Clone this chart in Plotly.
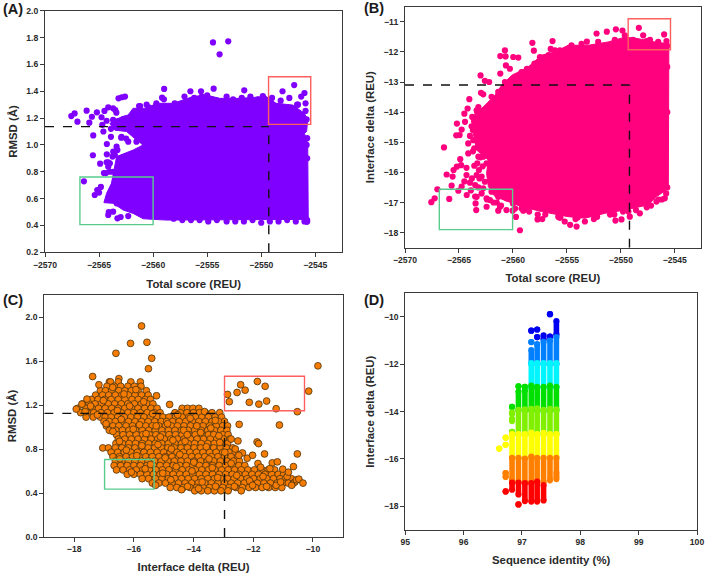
import plotly.graph_objects as go

FONT = "Liberation Sans"
INK = "#2a2a2a"
PURPLE = "#8000ff"
PINK = "#ff007f"
ORANGE = "#f57c00"
BOX_RED = "#ff5f5f"
BOX_GREEN = "#58cc8c"

# ---------- Panel A: total score vs RMSD ----------
a_hull_x = [-2562.92,-2562.31,-2561.85,-2560.62,-2559.69,-2558.15,-2556.31,-2555.08,-2553.85,-2552.0,-2549.54,-2548.62,-2547.08,-2546.0,-2545.7,-2545.8,-2546.0,-2545.7,-2545.65,-2558.77,-2560.92,-2561.85,-2562.77,-2563.69,-2564.55,-2564.3,-2563.85,-2563.69,-2563.54,-2563.38,-2561.85,-2560.92,-2561.54,-2562.46,-2563.54,-2564.0]
a_hull_y = [1.21,1.223,1.273,1.273,1.31,1.31,1.36,1.372,1.347,1.347,1.36,1.31,1.297,1.235,1.186,1.10,1.086,1.012,0.445,0.44,0.45,0.49,0.515,0.565,0.57,0.64,0.714,0.79,0.863,0.913,0.962,1.0,1.037,1.10,1.11,1.16]
a_pts_x = [-2554.46,-2553.05,-2553.85,-2546.95,-2548.03,-2546.0,-2546.68,-2545.9,-2558.98,-2559.17,-2554.4,-2555.57,-2556.55,-2551.57,-2567.57,-2567.26,-2567.0,-2566.15,-2565.9,-2565.66,-2565.2,-2564.77,-2564.5,-2564.15,-2563.7,-2565.54,-2565.57,-2564.28,-2563.9,-2562.95,-2562.5,-2564.28,-2564.9,-2564.15,-2564.55,-2566.4,-2564.83,-2565.17,-2565.0,-2565.4,-2563.0,-2562.3,
 -2564.7,-2564.3,-2563.9,-2563.4,-2563.2,-2561.3,-2560.6,-2559.7,-2559.0,-2558.0,-2557.1,-2556.2,-2555.5,-2555.0,-2554.1,-2553.2,-2552.6,-2551.8,-2551.0,-2550.3,-2549.8,-2549.0,-2548.2,-2547.4,-2546.6,-2545.9,
 -2561.2,-2560.4,-2559.6,-2558.8,-2558.1,-2557.3,-2556.5,-2555.7,-2554.9,-2554.1,-2553.2,-2552.4,-2551.6,-2550.8,-2550.0,-2549.2,-2548.4,-2547.6,-2546.8,-2546.0,-2545.8,-2545.75,-2545.8,-2545.75,-2545.8,-2545.75,-2545.8,-2545.75,
 -2564.0,-2563.6,-2563.9,-2564.1,-2564.6,-2564.3,-2563.7,-2563.2,-2562.7,-2562.0,-2561.4,
 -2562.77,-2562.0,-2561.38,-2560.6,-2559.7,-2562.92,-2562.3,-2561.54,-2560.77,-2563.54,-2563.69,-2563.3,-2563.38,-2563.75,-2564.15,-2564.0,-2564.37,-2563.54,-2562.77,-2561.85,-2560.9,
 -2563.38,-2563.7,-2564.15,-2563.3,-2563.7,-2563.08,-2562.0,-2561.7,-2561.2,-2560.0,-2558.77,-2557.4,-2556.9,-2556.0,-2552.9,-2550.8,-2549.85,-2546.3,
 -2562.6,-2563.2,-2562.9,-2563.5,-2562.95,-2562.45]
a_pts_y = [1.764,1.772,1.675,1.446,1.40,1.387,1.30,1.253,1.417,1.352,1.419,1.40,1.40,1.407,1.215,1.235,1.173,1.255,1.166,1.21,1.243,1.206,1.253,1.28,1.273,1.071,0.923,1.007,1.06,1.054,1.047,0.93,0.86,0.87,0.79,0.729,0.687,0.664,0.645,0.627,0.463,0.47,
 1.15,1.18,1.12,1.24,1.18,1.29,1.30,1.31,1.34,1.31,1.36,1.35,1.36,1.37,1.33,1.36,1.34,1.35,1.36,1.34,1.35,1.35,1.33,1.35,1.30,1.31,1.29,1.28,1.25,1.20,
 0.45,0.44,0.44,0.44,0.43,0.44,0.43,0.43,0.43,0.44,0.42,0.43,0.43,0.44,0.43,0.43,0.43,0.43,0.43,0.44,1.19,1.05,1.0,0.9,0.8,0.7,0.6,0.5,
 1.10,0.87,0.80,0.72,0.57,0.60,0.56,0.60,0.52,0.50,0.49,
 1.10,1.06,1.024,1.024,1.007,0.925,0.95,0.962,0.987,0.913,0.838,0.863,0.79,0.726,0.69,0.615,0.578,0.565,0.503,0.478,0.453,
 1.186,1.148,1.124,1.10,1.223,1.26,1.248,1.285,1.29,1.305,1.29,1.31,1.364,1.36,1.36,1.347,1.355,1.26,
 0.90,0.88,0.86,1.08,1.04,1.03]
a_red_x = [-2549.32, -2545.42]
a_red_y = [1.153, 1.508]
a_green_x = [-2566.77, -2560.0]
a_green_y = [0.406, 0.761]
a_cut = (-2549.3, 1.136)

# ---------- Panel B: total score vs interface delta ----------
b_hull_x = [-2560.12,-2561.05,-2561.67,-2562.75,-2563.52,-2563.67,-2563.36,-2562.28,-2562.44,-2562.28,-2561.67,-2560.12,-2559.2,-2557.35,-2554.88,-2553.33,-2551.48,-2549.63,-2547.47,-2546.7,-2545.6,-2545.55,-2546.85,-2548.4,-2549.63,-2551.17,-2553.02,-2554.88,-2556.11,-2557.35,-2558.58]
b_hull_y = [-12.78,-13.11,-13.44,-13.83,-14.05,-14.71,-15.26,-15.59,-16.03,-16.47,-16.80,-17.03,-17.14,-17.30,-17.47,-17.52,-17.36,-17.25,-17.08,-16.81,-16.53,-11.73,-11.67,-11.56,-11.51,-11.67,-11.78,-11.78,-12.0,-12.11,-12.5]
b_pts_x = [-2548.33,-2547.93,-2545.99,-2547.3,-2549.85,-2550.46,-2551.3,-2552.25,-2553.15,-2556.33,-2558.2,-2556.5,-2558.06,-2556.1,-2560.74,-2561.17,-2560.68,-2559.97,-2559.5,-2560.65,-2560.28,-2561.17,-2563.0,-2562.6,-2562.2,-2562.96,-2562.75,-2564.04,-2564.2,-2564.5,-2565.19,-2564.44,-2564.75,-2565.25,-2564.94,-2563.98,-2564.14,-2566.39,-2564.14,-2564.88,-2564.8,-2565.2,-2565.5,-2566.14,-2565.59,-2564.3,-2564.3,-2563.58,-2563.15,-2565.68,-2564.75,-2563.98,-2567.0,-2567.25,-2567.56,-2565.9,-2565.06,-2564.28,-2563.36,-2563.4,-2563.46,-2562.44,-2562.13,-2561.36,-2561.2,-2560.6,-2560.03,-2559.72,-2559.35,-2559.04,-2557.72,-2557.28,-2555.8,-2555.2,-2554.7,-2554.1,-2553.33,-2552.2,-2550.5,-2549.94,-2549.17,-2548.24,-2547.6,-2546.7,-2545.93,
 -2563.3,-2563.6,-2563.0,-2563.7,-2563.2,-2562.9,-2563.7,-2563.0,-2563.3,-2562.8,-2563.8,-2563.2,-2562.6,-2563.1,-2564.5,-2563.9,-2563.5,-2562.9,-2562.4,-2561.8,-2561.1,-2559.8,-2558.5,-2557.0,-2555.6,-2554.0,-2552.5,-2551.0,-2549.8,-2548.6,-2547.2,-2546.2,-2545.7,-2545.7,-2545.7,-2545.7,-2561.5,-2559.2,-2557.7,-2555.7,-2554.2,-2552.4,-2550.6,-2549.3,-2547.6,-2546.5,-2545.8,
 -2563.36,-2563.77,-2563.2,-2563.46,-2562.9,-2563.83,-2562.28,-2562.44,-2563.67,-2563.15,-2562.75,-2563.58,-2562.75,-2563.2,-2562.44,-2562.9,-2563.36,-2562.6,-2563.5,-2562.75,-2561.98,-2561.36,-2560.6,-2562.44,-2560.0,-2558.58,
 -2561.36,-2561.98,-2560.74,-2559.8,-2559.2,-2558.7,-2558.0,-2557.5,-2556.7,-2555.65,-2554.57,-2553.64,-2552.1,-2550.56,-2549.63,-2548.86,-2547.62,-2546.54,-2545.77]
b_pts_y = [-11.2,-11.45,-11.42,-11.6,-11.29,-11.25,-11.33,-11.39,-11.66,-11.64,-11.7,-11.9,-11.96,-11.95,-11.95,-12.14,-12.15,-12.17,-12.19,-12.45,-12.56,-12.72,-12.78,-12.96,-13.0,-13.36,-13.41,-13.57,-13.88,-14.05,-14.38,-14.32,-14.58,-14.77,-14.76,-14.79,-15.04,-15.17,-15.37,-15.56,-15.76,-15.81,-15.92,-16.07,-16.14,-15.85,-16.09,-15.78,-15.92,-16.44,-16.47,-16.34,-16.56,-16.86,-16.99,-16.88,-16.61,-16.75,-16.81,-17.25,-17.03,-17.14,-16.92,-17.27,-17.14,-17.25,-17.27,-17.48,-17.92,-17.27,-17.56,-17.55,-17.47,-17.63,-17.74,-17.8,-17.63,-17.47,-17.6,-17.56,-17.47,-17.36,-17.16,-16.97,-16.86,
 -14.0,-14.3,-14.5,-14.6,-14.9,-15.1,-15.3,-15.5,-15.7,-15.8,-16.2,-16.5,-15.2,-16.2,-16.3,-16.6,-16.8,-16.7,-16.9,-17.0,-17.1,-17.2,-17.3,-17.4,-17.5,-17.5,-17.55,-17.4,-17.3,-17.25,-17.1,-16.9,-16.5,-14.0,-12.5,-11.8,-17.0,-17.2,-17.4,-17.5,-17.55,-17.5,-17.4,-17.3,-17.1,-16.9,-16.7,
 -13.94,-14.16,-13.83,-14.43,-14.38,-14.47,-14.1,-14.38,-14.93,-15.04,-14.93,-15.2,-15.48,-15.48,-15.7,-16.14,-16.09,-16.31,-16.42,-16.53,-16.64,-16.81,-16.86,-16.86,-17.03,-17.19,
 -13.33,-13.49,-13.0,-12.83,-12.67,-12.56,-12.39,-12.17,-12.11,-11.95,-11.78,-11.73,-11.67,-11.6,-11.45,-11.6,-11.64,-11.67,-11.64]
b_red_x = [-2549.32, -2545.4]
b_red_y = [-11.93, -10.9]
b_green_x = [-2566.82, -2560.03]
b_green_y = [-17.9, -16.56]
b_cut = (-2549.2, -13.1)

# ---------- Panel C: interface delta vs RMSD ----------
c_sparse_x = [-15.74,-16.11,-15.56,-16.6,-15.4,-15.51,-9.83,-17.38,-10.14,-17.17,-15.24,-14.8,-12.86,-12.8,-12.54,-12.42,-12.27,-11.86,-11.6,-11.55,-12.13,-11.81,-11.23,-10.52,-11.12,-12.47,-12.51,-12.74,-12.6,-11.87,-11.82,-12.36,-12.48,-12.2,-12.02,-11.62,-10.52,-10.65,-11.36,-11.19,-11.84,-11.75,-11.44,-11.01,-10.82,-10.55,-10.47,-10.33,-10.71,-17.93,-17.74,-17.57]
c_sparse_y = [1.918,1.76,1.77,1.67,1.625,1.53,1.556,1.459,1.326,1.384,1.284,1.205,1.296,1.23,1.314,1.384,1.335,1.414,1.37,1.236,1.224,1.208,1.166,1.139,1.018,1.024,0.873,0.891,0.80,0.864,0.849,0.764,0.743,0.716,0.743,0.755,0.755,0.64,0.674,0.683,0.668,0.634,0.622,0.617,0.589,0.52,0.526,0.49,0.47,1.163,1.208,1.254]
c_levels = [1.44,1.41,1.37,1.33,1.29,1.25,1.21,1.17,1.13,1.09,1.05,1.01,0.97,0.93,0.89,0.85,0.81,0.77,0.73,0.69,0.65,0.61,0.57,0.53,0.49,0.45,0.42]
c_level_x = [
 [-16.5],
 [-16.82,-16.78,-16.52,-16.1,-15.78],
 [-16.9,-16.66,-16.44,-16.2,-15.98,-15.76],
 [-17.12,-16.95,-16.74,-16.5,-16.3,-16.08,-15.86,-15.58],
 [-17.28,-17.05,-16.84,-16.62,-16.4,-16.18,-15.96,-15.74,-15.52],
 [-17.42,-17.2,-16.98,-16.76,-16.52,-16.3,-16.06,-15.85,-15.62,-15.44],
 [-17.72,-17.5,-17.3,-17.08,-16.86,-16.64,-16.42,-16.2,-15.98,-15.75,-15.55,-15.36],
 [-17.88,-17.6,-17.4,-17.18,-16.96,-16.74,-16.52,-16.3,-16.08,-15.86,-15.64,-15.42,-15.22,-14.38,-14.2,-14.02,-13.82],
 [-17.78,-17.56,-17.34,-17.1,-16.88,-16.66,-16.42,-16.2,-16.0,-15.78,-15.55,-15.32,-15.12,-14.62,-14.44,-14.22,-14.0,-13.8,-13.6,-13.38,-13.12],
 [-17.6,-17.36,-17.12,-16.96,-16.76,-16.54,-16.32,-16.1,-15.88,-15.66,-15.44,-15.22,-15.02,-14.82,-14.6,-14.38,-14.16,-13.94,-13.72,-13.5,-13.28,-13.06],
 [-17.0,-16.82,-16.62,-16.4,-16.18,-15.96,-15.74,-15.52,-15.3,-15.08,-14.9,-14.7,-14.48,-14.26,-14.04,-13.82,-13.6,-13.38,-13.16,-12.96],
 [-16.92,-16.7,-16.5,-16.26,-16.04,-15.82,-15.6,-15.38,-15.16,-14.94,-14.74,-14.54,-14.32,-14.1,-13.9,-13.68,-13.46,-13.24,-13.02,-12.86],
 [-16.82,-16.6,-16.38,-16.16,-15.94,-15.72,-15.5,-15.28,-15.06,-14.84,-14.62,-14.4,-14.18,-13.96,-13.74,-13.52,-13.3,-13.08,-12.88],
 [-16.58,-16.36,-16.14,-15.92,-15.7,-15.48,-15.26,-15.04,-14.82,-14.6,-14.38,-14.16,-13.94,-13.72,-13.5,-13.32,-13.02,-12.84],
 [-16.52,-16.3,-16.08,-15.86,-15.64,-15.42,-15.2,-14.98,-14.76,-14.54,-14.32,-14.1,-13.88,-13.66,-13.44,-13.22,-13.0,-12.78],
 [-16.6,-16.38,-16.16,-15.94,-15.72,-15.5,-15.28,-15.06,-14.84,-14.62,-14.4,-14.18,-13.96,-13.74,-13.52,-13.3,-13.08,-12.86],
 [-17.04,-16.85,-16.62,-16.4,-16.18,-15.96,-15.74,-15.52,-15.3,-15.08,-14.86,-14.64,-14.42,-14.2,-13.98,-13.76,-13.54,-13.32,-13.1,-12.9,-12.68],
 [-16.76,-16.54,-16.32,-16.1,-15.88,-15.66,-15.44,-15.22,-15.0,-14.78,-14.56,-14.34,-14.12,-13.9,-13.68,-13.46,-13.24,-13.02,-12.8,-12.6],
 [-16.7,-16.48,-16.26,-16.04,-15.82,-15.6,-15.38,-15.16,-14.94,-14.72,-14.5,-14.28,-14.06,-13.84,-13.62,-13.4,-13.18,-12.96,-12.74,-12.52],
 [-16.62,-16.4,-16.18,-15.96,-15.74,-15.52,-15.3,-15.08,-14.86,-14.64,-14.42,-14.2,-13.98,-13.76,-13.54,-13.32,-13.1,-12.88,-12.66,-12.46],
 [-16.66,-16.44,-16.22,-16.0,-15.78,-15.56,-15.34,-15.12,-14.9,-14.68,-14.46,-14.24,-14.02,-13.8,-13.58,-13.36,-13.14,-12.92,-12.7,-12.48,-12.28],
 [-16.58,-16.36,-16.14,-15.92,-15.7,-15.48,-15.26,-15.04,-14.82,-14.6,-14.38,-14.16,-13.94,-13.72,-13.5,-13.28,-13.06,-12.84,-12.62,-12.4,-12.18,-11.96,-11.7,-11.5,-11.28],
 [-16.22,-16.0,-15.78,-15.56,-15.34,-15.12,-14.9,-14.68,-14.46,-14.24,-14.02,-13.8,-13.58,-13.36,-13.14,-12.92,-12.7,-12.48,-12.26,-12.04,-11.82,-11.6,-11.38,-11.16,-10.98],
 [-15.72,-15.5,-15.28,-15.06,-14.84,-14.62,-14.4,-14.18,-13.96,-13.74,-13.52,-13.3,-13.08,-12.86,-12.64,-12.42,-12.2,-11.98,-11.76,-11.54,-11.32,-11.1,-10.92,-10.72],
 [-15.38,-15.16,-14.94,-14.72,-14.5,-14.28,-14.06,-13.84,-13.62,-13.4,-13.18,-12.96,-12.74,-12.52,-12.3,-12.08,-11.86,-11.64,-11.42,-11.2,-11.0,-10.82,-10.65],
 [-14.78,-14.56,-14.34,-14.12,-13.9,-13.68,-13.46,-13.24,-13.02,-12.8,-12.58,-12.36,-12.14,-11.92,-11.7,-11.48,-11.26,-11.04],
 [-13.96,-13.74,-13.52,-13.3,-13.08,-12.84,-12.4],
]
c_over_x = [-17.45,-17.02,-16.71,-16.33,-15.93,-16.55,-17.22,-16.14,-15.67,-16.93,-16.42,-15.81,-15.37,-17.63,-16.7,-16.02,-15.25,-16.48,-15.59,-14.87,-14.53,-14.11,-13.63,-13.27,-14.33,-13.89,-13.42,-15.11,-14.69,-14.21,-13.76,-13.15,-16.25,-15.73,-15.19,-14.74,-14.28,-13.57,-13.12,-16.47,-15.9,-15.44,-14.95,-14.46,-13.99,-13.48,-12.95,-16.08,-15.62,-15.03,-14.58,-14.05,-13.37,-12.74,-15.27,-14.76,-14.2,-13.71,-13.19,-12.55,-12.12,-11.67,-11.23,-10.86,-14.4,-13.83,-13.26,-12.63,-12.02,-11.55,-11.08,-10.6]
c_over_y = [1.19,1.24,1.36,1.30,1.34,1.15,1.11,1.19,1.23,1.03,1.07,1.02,1.12,1.14,0.96,0.98,1.01,0.87,0.94,1.03,1.11,1.08,1.14,1.06,0.97,1.01,0.99,0.91,0.88,0.93,0.95,0.92,0.79,0.83,0.84,0.8,0.87,0.82,0.86,0.71,0.74,0.66,0.72,0.75,0.68,0.71,0.77,0.59,0.62,0.58,0.64,0.6,0.63,0.67,0.47,0.52,0.46,0.5,0.54,0.56,0.51,0.55,0.47,0.55,0.43,0.44,0.46,0.46,0.47,0.46,0.5,0.5]
c_red_x = [-12.96, -10.28]
c_red_y = [1.148, 1.462]
c_green_x = [-16.98, -15.32]
c_green_y = [0.435, 0.704]
c_cut = (-12.96, 1.124)

# ---------- Panel D: sequence identity vs interface delta ----------
d_colors = ["#0000f0", "#0080ff", "#00f5ff", "#00e000", "#80f000", "#ffff00", "#ff8000", "#ff0000"]
# each band: runs of (identity, delta_low, delta_high)
d_runs = [
 [(97.16,-10.58,-10.58),(97.26,-10.85,-10.85),(97.26,-10.53,-10.53),(97.37,-10.95,-10.78),(97.48,-9.88,-9.88),(97.48,-10.83,-10.83),(97.59,-10.75,-10.17)],
 [(97.16,-11.06,-11.06),(97.16,-11.98,-11.4),(97.26,-11.98,-11.15),(97.37,-12.0,-11.05),(97.48,-12.0,-11.0),(97.59,-12.0,-10.85)],
 [(97.16,-12.98,-11.95),(97.26,-12.98,-11.95),(97.37,-12.98,-11.95),(97.48,-12.98,-11.95),(97.59,-12.98,-11.95)],
 [(96.83,-13.8,-13.8),(96.94,-13.95,-13.15),(96.94,-12.93,-12.93),(97.05,-13.95,-13.1),(97.05,-12.95,-12.95),(97.16,-13.95,-12.9),(97.26,-13.95,-12.95),(97.37,-13.98,-12.95),(97.48,-13.95,-12.9),(97.59,-13.95,-12.95)],
 [(96.83,-14.1,-14.03),(96.83,-14.4,-14.3),(96.83,-14.85,-14.85),(96.94,-14.98,-13.92),(97.05,-14.98,-13.9),(97.16,-14.95,-13.88),(97.26,-14.98,-13.86),(97.37,-14.95,-13.92),(97.48,-14.95,-13.88),(97.59,-14.95,-13.9)],
 [(96.61,-15.56,-15.56),(96.72,-15.1,-15.1),(96.72,-15.4,-15.4),(96.83,-15.95,-14.95),(96.94,-15.98,-14.95),(97.05,-15.98,-14.95),(97.16,-15.95,-14.88),(97.26,-15.98,-14.95),(97.37,-15.98,-14.9),(97.48,-15.95,-14.95),(97.59,-15.95,-14.95)],
 [(96.72,-16.6,-16.6),(96.72,-16.75,-16.75),(96.83,-16.9,-15.95),(96.94,-16.98,-15.95),(97.05,-16.98,-15.98),(97.16,-16.98,-15.9),(97.26,-16.95,-15.95),(97.37,-16.98,-15.95),(97.48,-16.9,-15.95),(97.59,-16.6,-15.95),(97.59,-16.85,-16.72)],
 [(96.72,-17.37,-17.37),(96.83,-17.3,-17.0),(96.94,-17.5,-17.0),(96.94,-17.92,-17.92),(97.05,-17.78,-17.02),(97.16,-17.8,-17.02),(97.26,-17.8,-16.95),(97.37,-17.75,-17.1)],
]

W, H = 709, 573
def dom_x(a, b): return [a / W, b / W]
def dom_y(top, bot): return [1 - bot / H, 1 - top / H]

fig = go.Figure()

def hull(xaxis, yaxis, xs, ys, col):
    fig.add_trace(go.Scatter(x=xs + xs[:1], y=ys + ys[:1], xaxis=xaxis, yaxis=yaxis, mode="lines",
                             fill="toself", fillcolor=col, line=dict(color=col, width=1), hoverinfo="skip"))

def dots(xaxis, yaxis, xs, ys, col):
    fig.add_trace(go.Scatter(x=xs, y=ys, xaxis=xaxis, yaxis=yaxis, mode="markers",
                             marker=dict(color=col, size=6.2, line=dict(width=0))))

hull("x", "y", a_hull_x, a_hull_y, PURPLE)
dots("x", "y", a_pts_x, a_pts_y, PURPLE)
hull("x2", "y2", b_hull_x, b_hull_y, PINK)
dots("x2", "y2", b_pts_x, b_pts_y, PINK)

c_x = []
c_y = []
for lev, row in zip(c_levels, c_level_x):
    c_x.extend(row)
    c_y.extend([lev] * len(row))
c_x += c_over_x + c_sparse_x
c_y += c_over_y + c_sparse_y
fig.add_trace(go.Scatter(x=c_x, y=c_y, xaxis="x3", yaxis="y3", mode="markers",
                         marker=dict(color=ORANGE, size=6.8, line=dict(color="#4a3210", width=0.8))))

for col, runs in zip(d_colors, d_runs):
    xs, ys = [], []
    for id_, lo, hi in runs:
        xs += [id_, id_, None]
        ys += [lo, hi, None]
    fig.add_trace(go.Scatter(x=xs, y=ys, xaxis="x4", yaxis="y4", mode="lines+markers",
                             line=dict(color=col, width=5.6), marker=dict(color=col, size=6.2, line=dict(width=0))))

def axis(domain, rng, dtick, title, anchor, standoff, fmt=None):
    d = dict(domain=domain, range=rng, dtick=dtick, anchor=anchor, showgrid=False, zeroline=False, automargin=False,
             showline=True, mirror=True, linecolor="#3a3a3a", linewidth=1.2, ticks="outside", ticklen=4,
             tickwidth=1.2, tickcolor="#3a3a3a", tickfont=dict(family=FONT, size=8.6, color=INK, weight=700),
             title=dict(text="<b>%s</b>" % title, standoff=standoff, font=dict(family=FONT, size=11.4, color=INK)))
    if fmt:
        d["tickformat"] = fmt
    return d

fig.update_layout(
    width=W, height=H, autosize=False, margin=dict(l=0, r=0, t=0, b=0), showlegend=False,
    paper_bgcolor="white", plot_bgcolor="white", hovermode=False,
    font=dict(family=FONT, color=INK),
    xaxis=axis(dom_x(45, 342.3), [-2570, -2542.5], 5, "Total score (REU)", "y", 11),
    yaxis=axis(dom_y(10.7, 252.3), [0.2, 2.0], 0.2, "RMSD (Å)", "x", 6, ".1f"),
    xaxis2=axis(dom_x(405, 700.7), [-2570, -2542.6], 5, "Total score (REU)", "y2", 9),
    yaxis2=axis(dom_y(6.7, 247.7), [-18.5, -10.5], 1, "Interface delta (REU)", "x2", 6),
    xaxis3=axis(dom_x(44.3, 342.7), [-19, -9], 2, "Interface delta (REU)", "y3", 11),
    yaxis3=axis(dom_y(295, 537), [0, 2.2], 0.4, "RMSD (Å)", "x3", 6, ".1f"),
    xaxis4=axis(dom_x(405.3, 697), [95, 100], 1, "Sequence identity (%)", "y4", 9),
    yaxis4=axis(dom_y(293.3, 530), [-19, -9], 2, "Interface delta (REU)", "x4", 6),
)

def decor(xr, yr, red_x, red_y, green_x, green_y, cut, xmin, ymin):
    fig.add_shape(type="rect", xref=xr, yref=yr, x0=red_x[0], x1=red_x[1], y0=red_y[0], y1=red_y[1],
                  line=dict(color=BOX_RED, width=1.4))
    fig.add_shape(type="rect", xref=xr, yref=yr, x0=green_x[0], x1=green_x[1], y0=green_y[0], y1=green_y[1],
                  line=dict(color=BOX_GREEN, width=1.4))
    fig.add_shape(type="line", xref=xr, yref=yr, x0=xmin, x1=cut[0], y0=cut[1], y1=cut[1],
                  line=dict(color="#111111", width=1.4, dash="dash"))
    fig.add_shape(type="line", xref=xr, yref=yr, x0=cut[0], x1=cut[0], y0=ymin, y1=cut[1],
                  line=dict(color="#111111", width=1.4, dash="dash"))

decor("x", "y", a_red_x, a_red_y, a_green_x, a_green_y, a_cut, -2570, 0.2)
decor("x2", "y2", b_red_x, b_red_y, b_green_x, b_green_y, b_cut, -2570, -18.5)
decor("x3", "y3", c_red_x, c_red_y, c_green_x, c_green_y, c_cut, -19, 0)

for label, px, py in [("(A)", 1, 9), ("(B)", 362, 8), ("(C)", 1, 300), ("(D)", 362, 300)]:
    fig.add_annotation(text="<b>%s</b>" % label, xref="paper", yref="paper", x=px / W, y=1 - py / H,
                       xanchor="left", yanchor="middle", showarrow=False,
                       font=dict(family=FONT, size=14.5, color="#1a1a1a"))

fig.write_html("out.html", config=dict(displayModeBar=False),
               post_script="document.body.style.margin='0';document.body.style.overflow='hidden';")
